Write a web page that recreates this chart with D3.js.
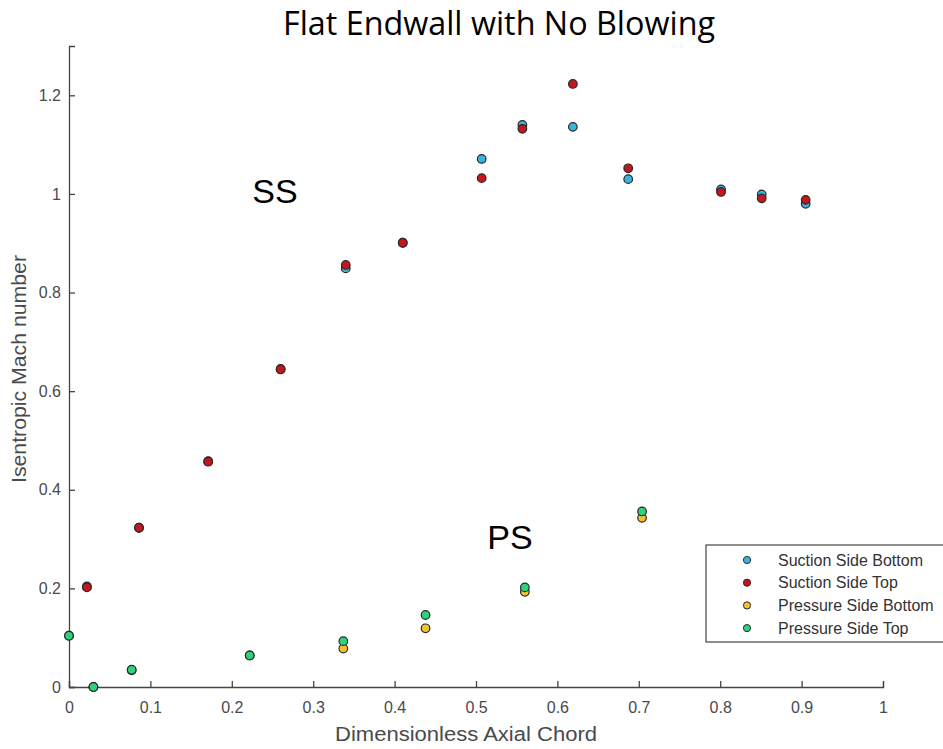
<!DOCTYPE html>
<html>
<head>
<meta charset="utf-8">
<script src="https://cdn.jsdelivr.net/npm/d3@7"></script>
<style>
  body { margin: 0; background: #fff; }
  svg text { font-family: "Liberation Sans", Arial, sans-serif; }
</style>
</head>
<body>
<div id="chart"></div>
<script>
// data
var ssX = [0.022, 0.086, 0.171, 0.260, 0.340, 0.410, 0.507, 0.557, 0.619, 0.687, 0.801, 0.851, 0.905];
var ssBottom = [0.204, 0.323, 0.458, 0.645, 0.849, 0.901, 1.071, 1.140, 1.136, 1.030, 1.009, 0.999, 0.980];
var ssTop = [0.202, 0.323, 0.457, 0.644, 0.856, 0.901, 1.032, 1.132, 1.223, 1.052, 1.004, 0.991, 0.988];

var psX = [0.0, 0.030, 0.077, 0.222, 0.337, 0.438, 0.560, 0.704];
var psBottom = [0.104, 0.0, 0.034, 0.064, 0.078, 0.119, 0.193, 0.343];
var psTop = [0.104, 0.0, 0.035, 0.064, 0.093, 0.146, 0.202, 0.356];

var xTicks = [0, 0.1, 0.2, 0.3, 0.4, 0.5, 0.6, 0.7, 0.8, 0.9, 1];
var yTicks = [0, 0.2, 0.4, 0.6, 0.8, 1, 1.2];

var seriesNames = ['Suction Side Bottom', 'Suction Side Top', 'Pressure Side Bottom', 'Pressure Side Top'];
var seriesColors = ['#3bb3dd', '#c4161f', '#f2c231', '#2fd17a'];

var svgWidth = 943;
var svgHeight = 749;
var margin = { top: 46, right: 60, bottom: 62, left: 69 };
var width = svgWidth - margin.left - margin.right;
var height = svgHeight - margin.top - margin.bottom;

var svg = d3.select('#chart')
    .append('svg')
    .attr('width', svgWidth)
    .attr('height', svgHeight);

var chartGroup = svg.append('g')
    .attr('transform', `translate(${margin.left}, ${margin.top})`);

var xScale = d3.scaleLinear().domain([0, 1]).range([0, 814]);
var yScale = d3.scaleLinear().domain([0, 1.3]).range([height, 0]);

// axes, ticks pointing inward like matlab
var bottomAxis = d3.axisBottom(xScale)
    .tickValues(xTicks)
    .tickSize(-6)
    .tickPadding(15)
    .tickFormat(d => d3.format('~g')(d));
var leftAxis = d3.axisLeft(yScale)
    .tickValues(yTicks)
    .tickSize(-6)
    .tickPadding(8)
    .tickFormat(d => d3.format('~g')(d));

var xAxis = chartGroup.append('g')
    .attr('transform', `translate(0, ${height})`)
    .call(bottomAxis);
var yAxis = chartGroup.append('g')
    .call(leftAxis);

[xAxis, yAxis].forEach(function(ax) {
    ax.select('.domain').attr('stroke', '#444').attr('stroke-width', 1.3);
    ax.selectAll('.tick line').attr('stroke', '#444').attr('stroke-width', 1.3);
    ax.selectAll('.tick text')
        .attr('fill', '#4a4a4a')
        .style('font-size', '16px');
});

// series, drawn in order so top series lies over bottom
var series = [
    { x: ssX, y: ssBottom },
    { x: ssX, y: ssTop },
    { x: psX, y: psBottom },
    { x: psX, y: psTop }
];

series.forEach(function(s, i) {
    var pts = s.x.map((x, j) => ({ x: x, y: s.y[j] }));
    chartGroup.append('g')
        .selectAll('circle')
        .data(pts)
        .enter()
        .append('circle')
        .attr('cx', d => xScale(d.x))
        .attr('cy', d => yScale(d.y))
        .attr('r', 4.3)
        .attr('fill', seriesColors[i])
        .attr('stroke', '#2a2a2a')
        .attr('stroke-width', 1.2);
});

// title
svg.append('text')
    .attr('x', 499)
    .attr('y', 35)
    .attr('text-anchor', 'middle')
    .style('font-family', '"Open Sans", sans-serif')
    .style('font-size', '32px')
    .attr('textLength', 432)
    .attr('lengthAdjust', 'spacingAndGlyphs')
    .attr('fill', '#000')
    .text('Flat Endwall with No Blowing');

// annotations
svg.append('text')
    .attr('x', 275)
    .attr('y', 203)
    .attr('text-anchor', 'middle')
    .style('font-size', '34px')
    .attr('fill', '#000')
    .text('SS');
svg.append('text')
    .attr('x', 510)
    .attr('y', 549)
    .attr('text-anchor', 'middle')
    .style('font-size', '34px')
    .attr('fill', '#000')
    .text('PS');

// axis labels
svg.append('text')
    .attr('x', 466)
    .attr('y', 741)
    .attr('text-anchor', 'middle')
    .attr('fill', '#4a4a4a')
    .style('font-size', '20px')
    .attr('textLength', 262)
    .attr('lengthAdjust', 'spacingAndGlyphs')
    .text('Dimensionless Axial Chord');

svg.append('text')
    .attr('transform', 'translate(26, 369) rotate(-90)')
    .attr('text-anchor', 'middle')
    .attr('fill', '#4a4a4a')
    .style('font-size', '20px')
    .attr('textLength', 228)
    .attr('lengthAdjust', 'spacingAndGlyphs')
    .text('Isentropic Mach number');

// legend
var legend = svg.append('g')
    .attr('transform', 'translate(706, 545)');
legend.append('rect')
    .attr('width', 260)
    .attr('height', 97)
    .attr('fill', '#fff')
    .attr('stroke', '#444')
    .attr('stroke-width', 1.2);

var rows = legend.selectAll('g.row')
    .data(seriesNames)
    .enter()
    .append('g')
    .attr('class', 'row')
    .attr('transform', (d, i) => `translate(0, ${15 + i * 22.7})`);
rows.append('circle')
    .attr('cx', 41)
    .attr('cy', 0)
    .attr('r', 3.6)
    .attr('fill', (d, i) => seriesColors[i])
    .attr('stroke', '#2a2a2a')
    .attr('stroke-width', 1);
rows.append('text')
    .attr('x', 72)
    .attr('y', 5.5)
    .attr('fill', '#333')
    .style('font-size', '16px')
    .text(d => d);
</script>
</body>
</html>
